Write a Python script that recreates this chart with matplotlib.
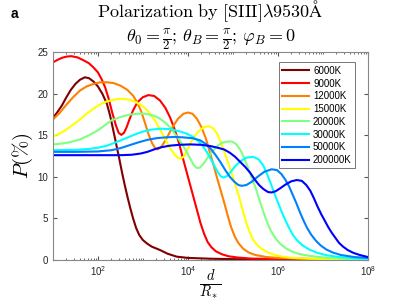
import numpy as np
import matplotlib
matplotlib.use("Agg")
import matplotlib.pyplot as plt
from matplotlib.ticker import FixedLocator, LogLocator, NullFormatter

plt.rcParams['mathtext.fontset'] = 'cm'
plt.rcParams['font.family'] = ['Liberation Sans', 'DejaVu Sans']

# log10(d/R*) y P(%), un par de listas por temperatura
temps = ['6000K', '9000K', '12000K', '15000K', '20000K', '30000K', '50000K', '200000K']
colores = ['#800000', '#ff0000', '#ff8000', '#ffff00', '#80ff80', '#00ffff', '#0080ff', '#0000ff']

logd_6000 = [1.0, 1.1, 1.2, 1.3, 1.4, 1.5, 1.6, 1.71, 1.8, 1.9, 2.0, 2.1, 2.2, 2.27, 2.33, 2.4,
             2.47, 2.54, 2.6, 2.66, 2.72, 2.78, 2.85, 2.92, 3.0, 3.1, 3.2, 3.38, 3.55, 3.75, 4.0,
             4.5, 5.0, 6.0, 8.0]
p_6000 = [17.1, 17.8, 18.6, 19.6, 20.5, 21.2, 21.7, 22.0, 21.9, 21.5, 20.9, 20.0, 18.8, 17.4, 15.9, 14.1,
          12.3, 10.4, 8.9, 7.5, 6.2, 5.0, 3.8, 2.95, 2.35, 1.9, 1.55, 1.15, 0.7, 0.35, 0.2,
          0.1, 0.05, 0.02, 0.0]

logd_9000 = [1.0, 1.1, 1.2, 1.3, 1.41, 1.55, 1.7, 1.8, 1.9, 2.0, 2.08, 2.16, 2.24, 2.32, 2.4, 2.46,
             2.52, 2.58, 2.64, 2.7, 2.78, 2.88, 3.0, 3.12, 3.25, 3.38, 3.5, 3.6, 3.7, 3.8, 3.9,
             4.0, 4.1, 4.2, 4.28, 4.36, 4.44, 4.52, 4.62, 4.75, 4.9, 5.1, 5.4, 6.0, 8.0]
p_9000 = [23.8, 24.1, 24.35, 24.5, 24.55, 24.4, 24.0, 23.7, 23.2, 22.6, 21.8, 20.8, 19.4, 17.7, 16.2, 15.3,
          15.05, 15.3, 16.0, 16.9, 18.0, 19.0, 19.6, 19.85, 19.75, 19.2, 18.3, 17.2, 15.8, 14.1, 12.0,
          10.0, 8.0, 6.0, 4.4, 3.1, 2.1, 1.5, 1.0, 0.65, 0.4, 0.25, 0.12, 0.05, 0.0]

logd_12000 = [1.0, 1.15, 1.3, 1.45, 1.6, 1.75, 1.9, 2.05, 2.2, 2.35, 2.5, 2.65, 2.78, 2.88, 2.96, 3.04,
              3.12, 3.2, 3.27, 3.33, 3.4, 3.48, 3.57, 3.67, 3.78, 3.9, 4.0, 4.1, 4.2, 4.3, 4.4,
              4.48, 4.56, 4.64, 4.72, 4.8, 4.88, 4.96, 5.04, 5.12, 5.23, 5.35, 5.5, 5.75, 6.0, 7.0, 8.0]
p_12000 = [16.9, 17.7, 18.7, 19.6, 20.4, 20.9, 21.2, 21.4, 21.4, 21.3, 21.0, 20.5, 19.8, 18.9, 17.9, 16.6,
           15.2, 14.1, 13.45, 13.3, 13.55, 14.2, 15.1, 16.1, 17.0, 17.6, 17.75, 17.6, 17.0, 16.0, 14.6,
           13.1, 11.6, 10.0, 8.5, 7.0, 5.4, 3.9, 2.8, 2.0, 1.3, 0.85, 0.55, 0.3, 0.2, 0.05, 0.0]

logd_15000 = [1.0, 1.15, 1.3, 1.45, 1.6, 1.75, 1.9, 2.04, 2.2, 2.4, 2.56, 2.7, 2.85, 3.0, 3.1, 3.2,
              3.3, 3.4, 3.5, 3.6, 3.7, 3.78, 3.85, 3.92, 4.0, 4.08, 4.16, 4.26, 4.36, 4.47, 4.57,
              4.66, 4.74, 4.82, 4.9, 4.98, 5.06, 5.14, 5.22, 5.3, 5.38, 5.46, 5.55, 5.65, 5.78, 5.9,
              6.04, 6.3, 6.7, 7.2, 8.0]
p_15000 = [14.9, 15.2, 15.7, 16.3, 16.9, 17.6, 18.2, 18.7, 19.1, 19.35, 19.4, 19.3, 19.0, 18.5, 18.0, 17.3,
           16.5, 15.5, 14.5, 13.5, 12.7, 12.25, 12.2, 12.5, 13.4, 14.3, 15.0, 15.6, 16.0, 16.1, 15.8,
           15.1, 14.0, 12.8, 11.6, 10.3, 8.9, 7.5, 5.9, 4.4, 3.2, 2.3, 1.7, 1.25, 0.85, 0.6,
           0.4, 0.2, 0.1, 0.04, 0.0]

logd_20000 = [1.0, 1.2, 1.4, 1.6, 1.8, 2.0, 2.15, 2.3, 2.5, 2.7, 2.9, 3.05, 3.2, 3.35, 3.48, 3.6,
              3.72, 3.84, 3.95, 4.05, 4.13, 4.2, 4.27, 4.35, 4.45, 4.55, 4.65, 4.76, 4.88, 4.98, 5.08,
              5.18, 5.27, 5.36, 5.44, 5.52, 5.6, 5.68, 5.76, 5.84, 5.94, 6.05, 6.18, 6.3, 6.45, 6.7,
              7.0, 7.5, 8.0]
p_20000 = [13.9, 14.0, 14.2, 14.5, 15.0, 15.6, 16.2, 16.8, 17.2, 17.5, 17.6, 17.6, 17.45, 17.1, 16.6, 16.0,
           15.1, 14.2, 13.2, 12.2, 11.4, 11.05, 11.1, 11.6, 12.4, 13.1, 13.7, 14.1, 14.25, 14.25, 13.9,
           13.1, 12.0, 10.7, 9.6, 8.4, 7.0, 5.7, 4.5, 3.5, 2.6, 1.9, 1.35, 1.0, 0.7, 0.45,
           0.25, 0.1, 0.05]

logd_30000 = [1.0, 1.5, 1.8, 2.0, 2.2, 2.4, 2.6, 2.8, 3.0, 3.2, 3.4, 3.6, 3.8, 3.97, 4.1, 4.22,
              4.33, 4.43, 4.52, 4.6, 4.67, 4.73, 4.79, 4.86, 4.94, 5.04, 5.16, 5.3, 5.45, 5.57, 5.67,
              5.76, 5.84, 5.92, 6.0, 6.08, 6.16, 6.24, 6.33, 6.43, 6.55, 6.7, 6.88, 7.1, 7.4, 7.7, 8.0]
p_30000 = [13.2, 13.25, 13.35, 13.5, 13.75, 14.15, 14.6, 15.05, 15.45, 15.7, 15.8, 15.75, 15.5, 15.2, 14.85, 14.35,
           13.7, 12.9, 12.0, 11.2, 10.5, 10.05, 9.9, 10.05, 10.5, 11.2, 11.85, 12.3, 12.4, 12.1, 11.4,
           10.3, 9.2, 8.0, 6.9, 5.8, 4.8, 3.9, 3.0, 2.3, 1.7, 1.2, 0.8, 0.5, 0.28, 0.15, 0.1]

logd_50000 = [1.0, 1.5, 2.0, 2.3, 2.5, 2.7, 2.9, 3.1, 3.3, 3.5, 3.7, 3.9, 4.1, 4.27, 4.4, 4.52,
              4.63, 4.73, 4.83, 4.93, 5.03, 5.12, 5.2, 5.3, 5.42, 5.55, 5.7, 5.86, 5.98, 6.08, 6.17,
              6.25, 6.33, 6.41, 6.49, 6.57, 6.65, 6.74, 6.84, 6.95, 7.08, 7.22, 7.4, 7.7, 8.0]
p_50000 = [13.0, 13.0, 13.05, 13.2, 13.45, 13.8, 14.15, 14.45, 14.65, 14.75, 14.8, 14.75, 14.65, 14.4, 13.95, 13.3,
           12.5, 11.7, 10.8, 10.0, 9.4, 9.0, 8.9, 9.0, 9.4, 10.0, 10.6, 10.9, 10.8, 10.3, 9.6,
           8.8, 7.8, 6.8, 5.7, 4.7, 3.8, 3.0, 2.3, 1.7, 1.2, 0.85, 0.55, 0.3, 0.2]

logd_200000 = [1.0, 2.0, 2.5, 2.75, 2.95, 3.1, 3.25, 3.4, 3.6, 3.8, 4.05, 4.3, 4.5, 4.66, 4.8, 4.93,
               5.05, 5.16, 5.27, 5.38, 5.48, 5.58, 5.68, 5.78, 5.86, 5.95, 6.05, 6.18, 6.3, 6.42, 6.53,
               6.63, 6.72, 6.8, 6.88, 6.96, 7.04, 7.12, 7.2, 7.28, 7.36, 7.45, 7.55, 7.68, 7.82, 8.0]
p_200000 = [12.6, 12.6, 12.6, 12.65, 12.8, 13.0, 13.3, 13.55, 13.75, 13.85, 13.9, 13.85, 13.7, 13.5, 13.3, 12.9,
            12.4, 11.8, 11.2, 10.5, 9.7, 9.0, 8.5, 8.15, 8.1, 8.25, 8.6, 9.1, 9.45, 9.6, 9.5,
            9.0, 8.3, 7.4, 6.4, 5.5, 4.7, 3.9, 3.2, 2.6, 2.0, 1.55, 1.15, 0.8, 0.55, 0.3]

series = [(logd_6000, p_6000), (logd_9000, p_9000), (logd_12000, p_12000), (logd_15000, p_15000),
          (logd_20000, p_20000), (logd_30000, p_30000), (logd_50000, p_50000), (logd_200000, p_200000)]

fig = plt.figure(figsize=(4.07, 3.05), dpi=100)
ax = fig.add_axes([0.130, 0.149, 0.774, 0.679])

for i, (lx, py) in enumerate(series):
    ax.plot(10 ** np.array(lx), py, color=colores[i], lw=1.5, label=temps[i],
            solid_joinstyle='round')

ax.set_xscale('log')
ax.set_xlim(10, 1e8)
ax.set_ylim(0, 25)
ax.xaxis.set_major_locator(FixedLocator([1e2, 1e4, 1e6, 1e8]))
ax.xaxis.set_minor_locator(LogLocator(base=10, subs=np.arange(1, 10), numticks=20))
ax.xaxis.set_minor_formatter(NullFormatter())
ax.set_yticks([0, 5, 10, 15, 20, 25])

ax.tick_params(which='both', direction='in', top=True, right=True, colors='#555555',
               labelcolor='#262626', labelsize=7)
ax.tick_params(which='major', length=3)
ax.tick_params(which='minor', length=1.5)
for s in ax.spines.values():
    s.set_color('#888888')
    s.set_linewidth(0.8)

leg = ax.legend(loc='upper right', fontsize=7, frameon=True, fancybox=False, edgecolor='#555555',
                handlelength=2.8, handletextpad=0.4, labelspacing=0.28, borderpad=0.35,
                bbox_to_anchor=(0.975, 0.975))
leg.get_frame().set_linewidth(0.7)

ax.set_ylabel(r'$P(\%)$', fontsize=15, labelpad=2)
fig.text(0.517, 0.068, r'$\frac{d}{R_*}$', ha='center', va='center', fontsize=15)

fig.text(0.517, 0.962, r'$\mathrm{Polarization\ by\ [SIII]}\lambda\mathrm{9530\AA}$',
         ha='center', va='center', fontsize=13)
fig.text(0.517, 0.872, r'$\theta_0=\frac{\pi}{2};\,\theta_B=\frac{\pi}{2};\,\varphi_B=0$',
         ha='center', va='center', fontsize=13)
fig.text(0.025, 0.955, 'a', fontsize=10, fontweight='bold', ha='left', va='center')

fig.savefig('out.png', dpi=100)
